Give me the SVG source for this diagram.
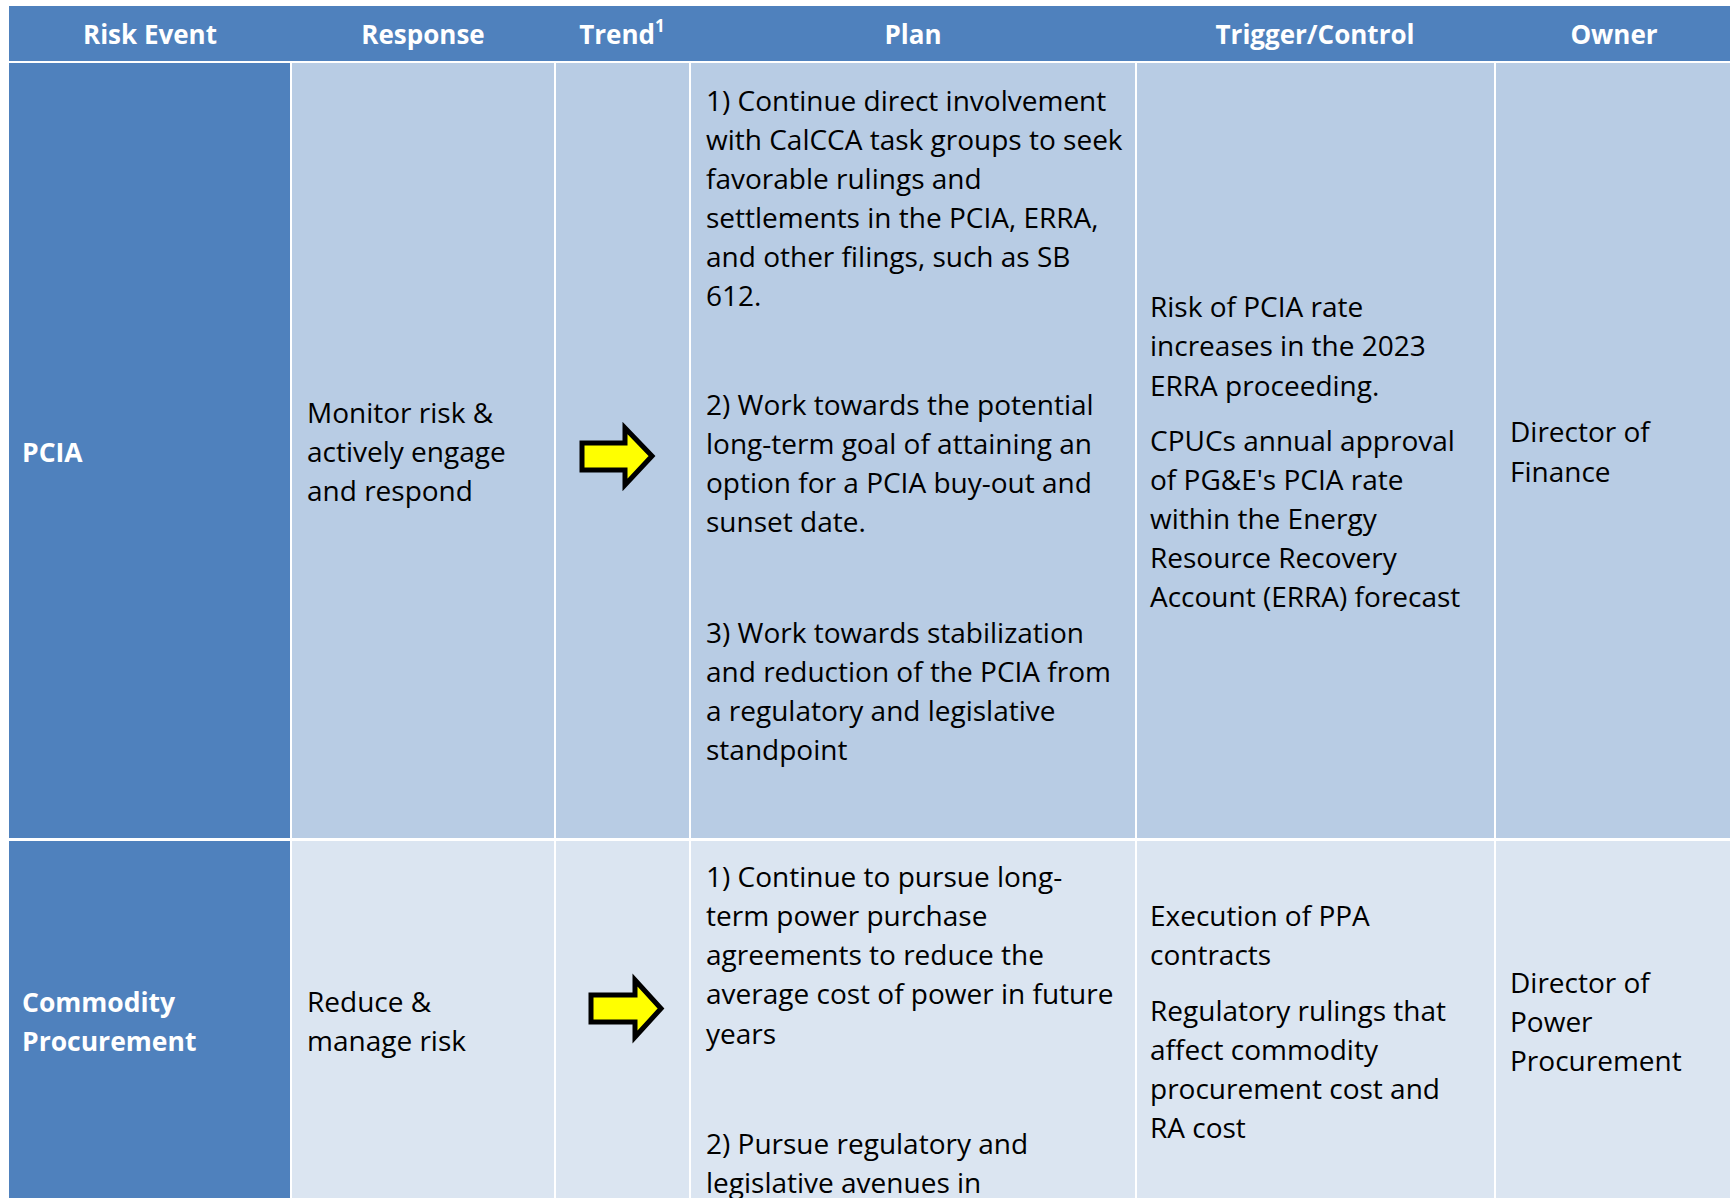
<svg xmlns="http://www.w3.org/2000/svg" width="1730" height="1198" viewBox="0 0 1730 1198">
<style>
.hdr{fill:#4F81BD}
.risk{fill:#4F81BD}
.r1{fill:#B8CCE4}
.r2{fill:#DBE5F1}
.ht{font-family:"Open Sans",Lato,sans-serif;font-weight:bold;font-size:26px;fill:#fff;text-anchor:middle}
.rt{font-family:"Open Sans",Lato,sans-serif;font-weight:bold;font-size:26.5px;fill:#fff}
.t{font-family:"Open Sans",Lato,sans-serif;font-size:28px;fill:#000}
.arr{fill:#FFFF00;stroke:#000;stroke-width:5;stroke-linejoin:miter}
</style>
<rect x="0" y="0" width="1730" height="1198" fill="#fff"/>
<g id="header">
<rect class="hdr" x="9" y="6" width="1721" height="55"/>
<text class="ht" x="150" y="44">Risk Event</text>
<text class="ht" x="423" y="44">Response</text>
<text class="ht" x="622" y="44">Trend<tspan font-size="17" dy="-12">1</tspan></text>
<text class="ht" x="913" y="44">Plan</text>
<text class="ht" x="1315" y="44">Trigger/Control</text>
<text class="ht" x="1614" y="44">Owner</text>
</g>
<g id="row-pcia">
<rect class="risk" x="9" y="63" width="281" height="775"/>
<rect class="r1" x="292" y="63" width="262" height="775"/>
<rect class="r1" x="556" y="63" width="133" height="775"/>
<rect class="r1" x="691" y="63" width="444" height="775"/>
<rect class="r1" x="1137" y="63" width="357" height="775"/>
<rect class="r1" x="1496" y="63" width="234" height="775"/>
<text class="rt" x="22" y="462">PCIA</text>
<text class="t" x="307"><tspan x="307" y="423">Monitor risk &amp;</tspan><tspan x="307" y="462">actively engage</tspan><tspan x="307" y="501">and respond</tspan></text>
<polygon class="arr" points="582,443 625,443 625,428 652,456 625,485 625,470 582,470"/>
<text class="t"><tspan x="706" y="110.5">1) Continue direct involvement</tspan><tspan x="706" y="149.5">with CalCCA task groups to seek</tspan><tspan x="706" y="188.5">favorable rulings and</tspan><tspan x="706" y="227.5">settlements in the PCIA, ERRA,</tspan><tspan x="706" y="266.5">and other filings, such as SB</tspan><tspan x="706" y="305.5">612.</tspan></text>
<text class="t"><tspan x="706" y="415">2) Work towards the potential</tspan><tspan x="706" y="454">long-term goal of attaining an</tspan><tspan x="706" y="493">option for a PCIA buy-out and</tspan><tspan x="706" y="532">sunset date.</tspan></text>
<text class="t"><tspan x="706" y="643">3) Work towards stabilization</tspan><tspan x="706" y="682">and reduction of the PCIA from</tspan><tspan x="706" y="721">a regulatory and legislative</tspan><tspan x="706" y="760">standpoint</tspan></text>
<text class="t"><tspan x="1150" y="317">Risk of PCIA rate</tspan><tspan x="1150" y="356">increases in the 2023</tspan><tspan x="1150" y="395.5">ERRA proceeding.</tspan></text>
<text class="t"><tspan x="1150" y="451">CPUCs annual approval</tspan><tspan x="1150" y="490">of PG&amp;E's PCIA rate</tspan><tspan x="1150" y="529">within the Energy</tspan><tspan x="1150" y="568">Resource Recovery</tspan><tspan x="1150" y="607">Account (ERRA) forecast</tspan></text>
<text class="t"><tspan x="1510" y="442">Director of</tspan><tspan x="1510" y="481.5">Finance</tspan></text>
</g>
<g id="row-commodity">
<rect class="risk" x="9" y="841" width="281" height="357"/>
<rect class="r2" x="292" y="841" width="262" height="357"/>
<rect class="r2" x="556" y="841" width="133" height="357"/>
<rect class="r2" x="691" y="841" width="444" height="357"/>
<rect class="r2" x="1137" y="841" width="357" height="357"/>
<rect class="r2" x="1496" y="841" width="234" height="357"/>
<text class="rt"><tspan x="22" y="1012">Commodity</tspan><tspan x="22" y="1050.5">Procurement</tspan></text>
<text class="t"><tspan x="307" y="1012">Reduce &amp;</tspan><tspan x="307" y="1050.5">manage risk</tspan></text>
<polygon class="arr" points="591,995 635,995 635,980 661,1008.5 635,1037 635,1022 591,1022"/>
<text class="t"><tspan x="706" y="887">1)  Continue to pursue long-</tspan><tspan x="706" y="926">term power purchase</tspan><tspan x="706" y="965">agreements to reduce the</tspan><tspan x="706" y="1004">average cost of power in future</tspan><tspan x="706" y="1043.5">years</tspan></text>
<text class="t"><tspan x="706" y="1154">2) Pursue regulatory and</tspan><tspan x="706" y="1193">legislative avenues in</tspan></text>
<text class="t"><tspan x="1150" y="926">Execution of PPA</tspan><tspan x="1150" y="965">contracts</tspan></text>
<text class="t"><tspan x="1150" y="1021">Regulatory rulings that</tspan><tspan x="1150" y="1060">affect commodity</tspan><tspan x="1150" y="1099">procurement cost and</tspan><tspan x="1150" y="1138">RA cost</tspan></text>
<text class="t"><tspan x="1510" y="993">Director of</tspan><tspan x="1510" y="1032">Power</tspan><tspan x="1510" y="1071">Procurement</tspan></text>
</g>
</svg>
